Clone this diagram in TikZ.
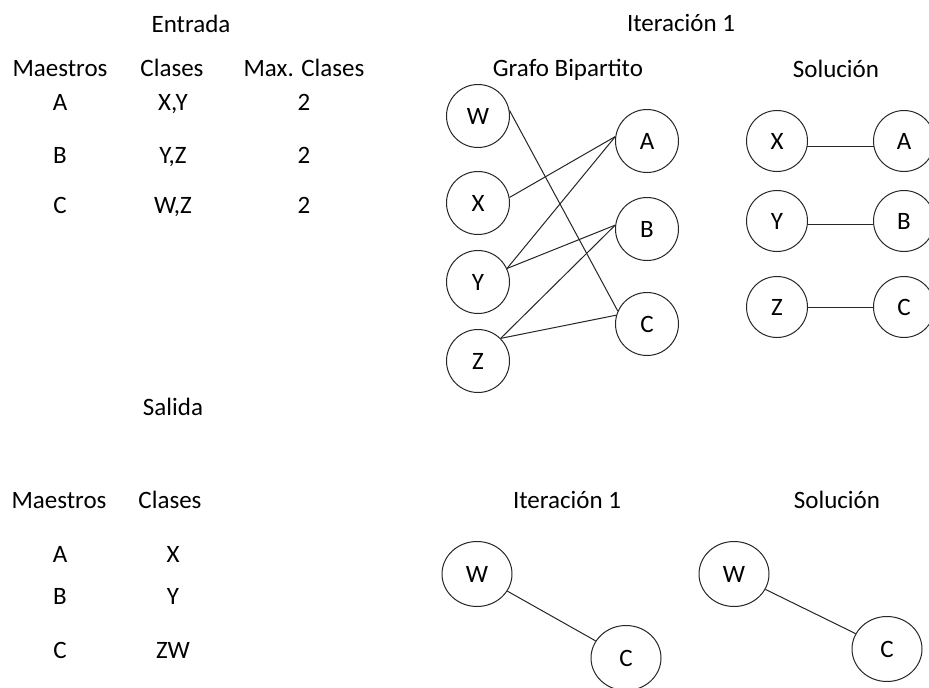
\documentclass[tikz,border=0pt]{standalone}
\usepackage{fontspec}
\setmainfont{Carlito}
\usetikzlibrary{shapes.geometric}
\begin{document}
\begin{tikzpicture}[x=1pt,y=-1pt,
  every node/.style={font=\fontsize{25}{30}\selectfont},
  lbl/.style={anchor=base, inner sep=0pt},
  vtx/.style={draw=black!85, circle, line width=1pt, minimum size=63pt, inner sep=0pt},
  vtxe/.style={draw=black!85, ellipse, line width=1pt, minimum width=70pt, minimum height=65pt, inner sep=0pt},
  edge/.style={draw=black!85, line width=1pt}]
\useasboundingbox[fill=white] (0,0) rectangle (929,688);
% ---- Entrada table
\node[lbl] (tEntrada) at (191,32) {Entrada};
\node[lbl] (tMae1) at (60,76) {Maestros};
\node[lbl] (tCla1) at (172,76) {Clases};
\node[lbl] (tMax1) at (304,76) {Max. Clases};
\node[lbl] (eA) at (60,110) {A};
\node[lbl] (eXY) at (173,110) {X,Y};
\node[lbl] (e2a) at (304,110) {2};
\node[lbl] (eB) at (60,163) {B};
\node[lbl] (eYZ) at (173,163) {Y,Z};
\node[lbl] (e2b) at (304,163) {2};
\node[lbl] (eC) at (60,213) {C};
\node[lbl] (eWZ) at (173,213) {W,Z};
\node[lbl] (e2c) at (304,213) {2};
% ---- Salida table
\node[lbl] (tSalida) at (173,415) {Salida};
\node[lbl] (tMae2) at (59,508) {Maestros};
\node[lbl] (tCla2) at (170,508) {Clases};
\node[lbl] (sA) at (60,562) {A};
\node[lbl] (sX) at (173,562) {X};
\node[lbl] (sB) at (60,604) {B};
\node[lbl] (sY) at (173,604) {Y};
\node[lbl] (sC) at (60,658) {C};
\node[lbl] (sZW) at (173,658) {ZW};
% ---- Iteracion 1 (top)
\node[lbl] (tIter1) at (681,31) {Iteración 1};
\node[lbl] (tGrafo) at (568,76) {Grafo Bipartito};
\node[lbl] (tSol1) at (836,77) {Solución};
\node[vtx] (gW) at (478,116) {W};
\node[vtx] (gX) at (478,203) {X};
\node[vtx] (gY) at (478,282) {Y};
\node[vtx] (gZ) at (478,361) {Z};
\node[vtx] (gA) at (647,141) {A};
\node[vtx] (gB) at (647,229) {B};
\node[vtx] (gC) at (647,324) {C};
\draw[edge] (gW.10) -- (gC.156);
\draw[edge] (gX.10) -- (gA.172);
\draw[edge] (gY.25) -- (gA.172);
\draw[edge] (gY.25) -- (gB.173);
\draw[edge] (gZ.45) -- (gB.173);
\draw[edge] (gZ.45) -- (gC.164);
% solution top
\node[vtx, minimum size=61pt] (pX) at (777,141) {X};
\node[vtx, minimum size=61pt] (pY) at (777,221) {Y};
\node[vtx, minimum size=61pt] (pZ) at (777,307) {Z};
\node[vtx, minimum size=61pt] (pA) at (904,141) {A};
\node[vtx, minimum size=61pt] (pB) at (904,221) {B};
\node[vtx, minimum size=61pt] (pC) at (904,307) {C};
\draw[edge] (pX.-11) -- (pA.191);
\draw[edge] (pY.-7) -- (pB.187);
\draw[edge] (pZ) -- (pC);
% ---- bottom graphs
\node[lbl] (tIter2) at (567,508) {Iteración 1};
\node[lbl] (tSol2) at (837,508) {Solución};
\node[vtxe] (bW) at (477,574) {W};
\node[vtxe] (bC) at (626,658) {C};
\draw[edge] (bW) -- (bC);
\node[vtxe] (cW) at (734,574) {W};
\node[vtxe] (cC) at (887,649) {C};
\draw[edge] (cW) -- (cC);
\end{tikzpicture}
\end{document}
